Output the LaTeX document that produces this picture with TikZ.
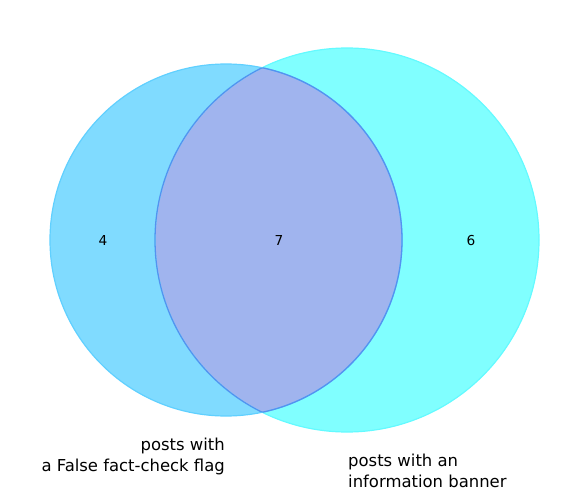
\documentclass[tikz,border=0pt]{standalone}
\usepackage{fontspec}
\setmainfont{DejaVu Sans}
\definecolor{leftfill}{RGB}{128,219,255}
\definecolor{rightfill}{RGB}{128,255,255}
\definecolor{bothfill}{RGB}{160,180,238}
\definecolor{leftedge}{RGB}{96,208,255}
\definecolor{rightedge}{RGB}{100,250,255}
\definecolor{bothedge}{RGB}{85,145,240}

\begin{document}
\begin{tikzpicture}[x=1bp,y=-1bp]
    % Define styles
    \tikzstyle{count}=[font=\fontsize{13.75}{16.5}\selectfont, inner sep=0pt]
    \tikzstyle{setlabel}=[font=\fontsize{16.5}{20.8}\selectfont, inner sep=0pt]
    \useasboundingbox (0,0) rectangle (588,500);

    % Set circles
    \fill[leftfill] (226,240) circle[radius=176];
    \fill[rightfill] (347,240) circle[radius=192];
    \begin{scope}
        \clip (226,240) circle[radius=176];
        \fill[bothfill] (347,240) circle[radius=192];
    \end{scope}

    % Outlines
    \draw[leftedge, line width=1.2] (226,240) circle[radius=176];
    \draw[rightedge, line width=1.2] (347,240) circle[radius=192];
    \begin{scope}
        \clip (226,240) circle[radius=176];
        \draw[bothedge, line width=1.3] (347,240) circle[radius=192];
    \end{scope}
    \begin{scope}
        \clip (347,240) circle[radius=192];
        \draw[bothedge, line width=1.3] (226,240) circle[radius=176];
    \end{scope}

    % Region counts
    \node[count] (onlyflag) at (103,240.5) {4};
    \node[count] (both) at (279,240.5) {7};
    \node[count] (onlybanner) at (471,240.5) {6};

    % Set labels
    \node[setlabel, align=right, anchor=north east] (flaglabel) at (225,438) {posts with\\a False fact-check flag};
    \node[setlabel, align=left, anchor=north west] (bannerlabel) at (348,454) {posts with an\\information banner};
\end{tikzpicture}
\end{document}
